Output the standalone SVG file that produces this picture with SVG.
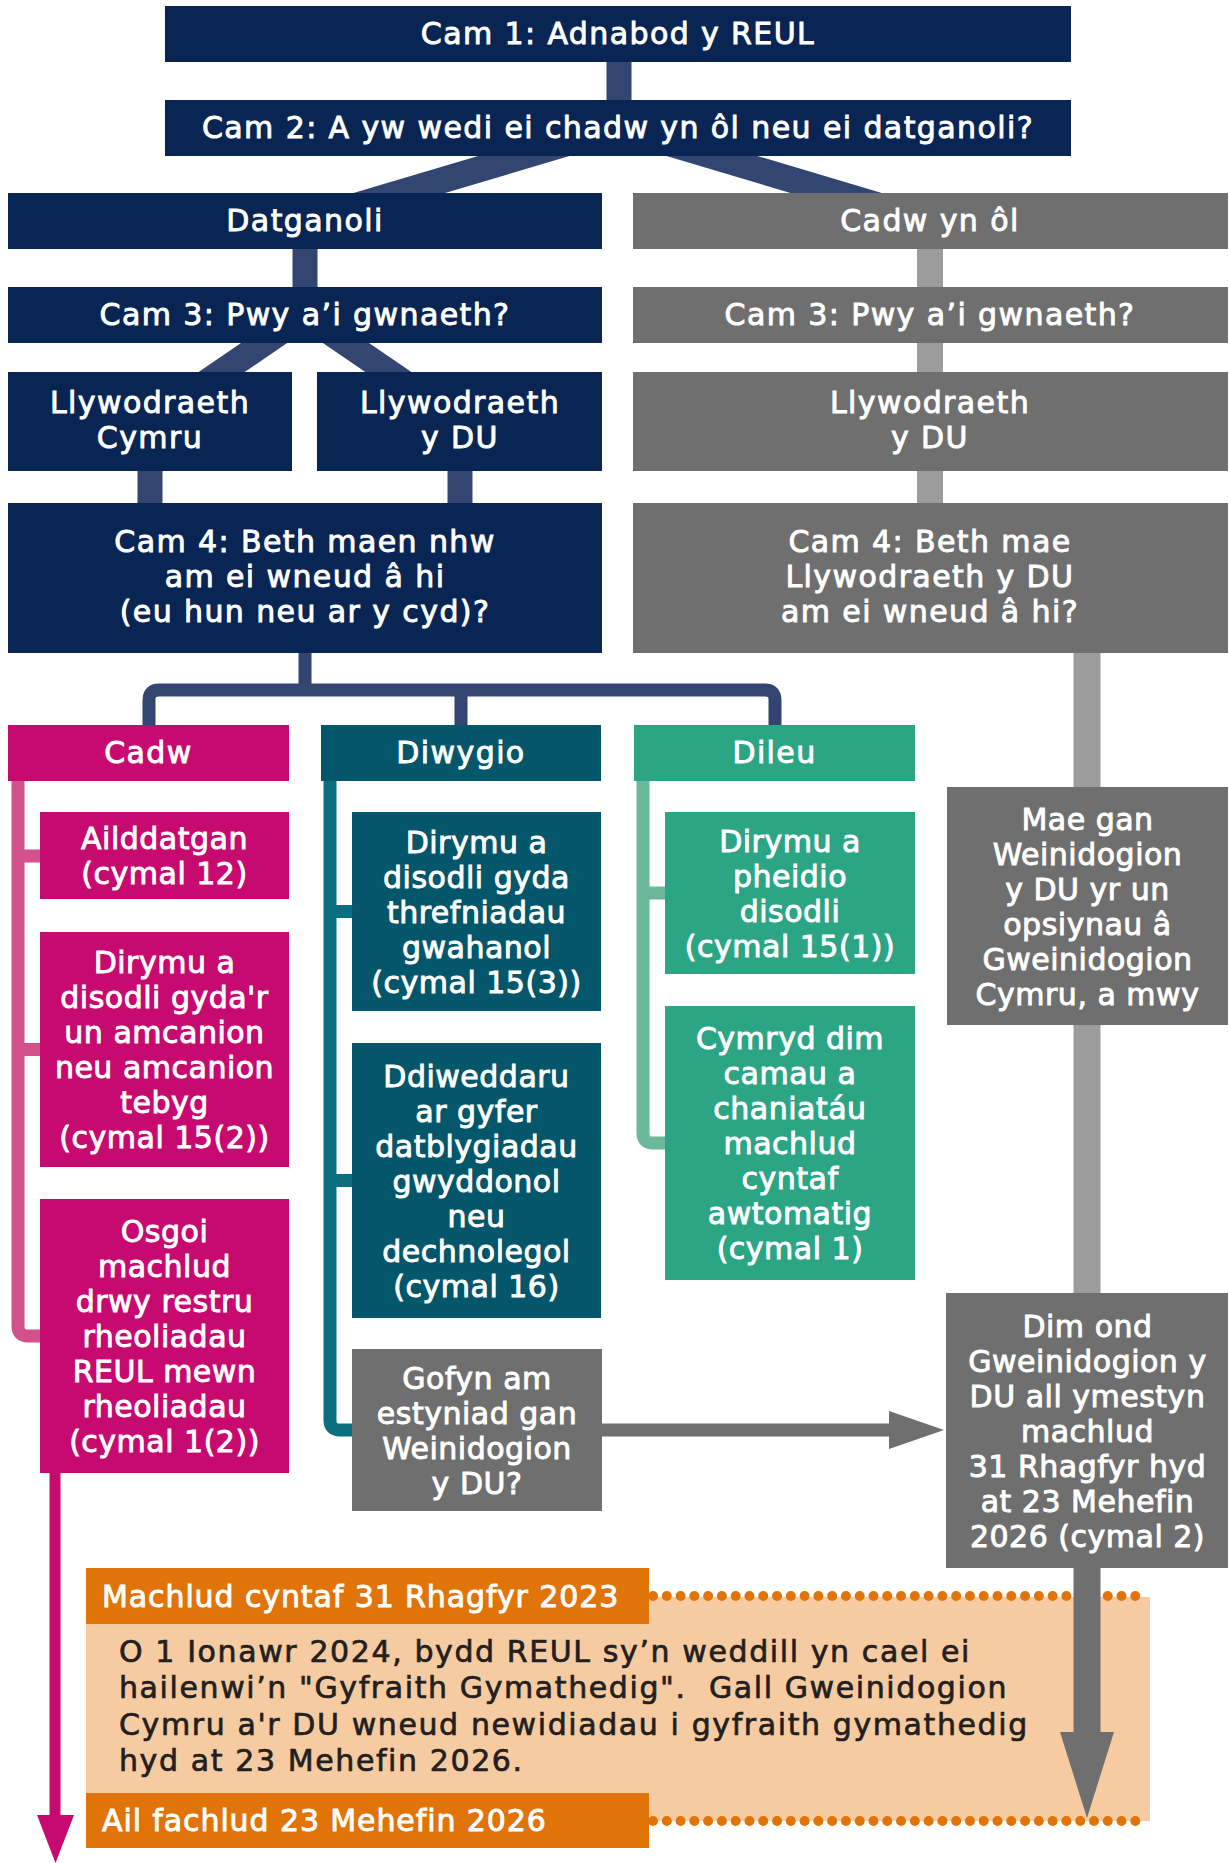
<svg xmlns="http://www.w3.org/2000/svg" width="1229" height="1863" viewBox="0 0 1229 1863">
<style>
text{font-family:"DejaVu Sans","Open Sans",sans-serif;font-weight:400;fill:#fff;stroke:#fff;stroke-width:0.9px;text-anchor:middle}
.h{font-size:30px;letter-spacing:1.4px}
.t{font-size:30px;letter-spacing:0.5px}
.b{font-size:30px;letter-spacing:1.6px;fill:#231f20;stroke:#231f20;stroke-width:0.7px;text-anchor:start}
.ol{font-size:30px;letter-spacing:0.9px;text-anchor:start}
.navy{fill:#082554}.gray{fill:#6f6f6f}.pink{fill:#c70a70}.teal{fill:#04566a}.green{fill:#2ca585}.orange{fill:#e07408}
.cn{stroke:#334571;fill:none}
.cg{stroke:#9c9c9c;fill:none}
</style>
<rect width="1229" height="1863" fill="#fff"/>

<g id="connectors">
  <line class="cn" x1="619" y1="60" x2="619" y2="102" stroke-width="25"/>
  <line class="cn" x1="618" y1="128" x2="305" y2="221" stroke-width="26"/>
  <line class="cn" x1="618" y1="128" x2="930" y2="221" stroke-width="26"/>
  <line class="cn" x1="305" y1="247" x2="305" y2="289" stroke-width="25"/>
  <line class="cn" x1="305" y1="315" x2="150" y2="421" stroke-width="26"/>
  <line class="cn" x1="305" y1="315" x2="460" y2="421" stroke-width="26"/>
  <line class="cn" x1="150" y1="469" x2="150" y2="505" stroke-width="25"/>
  <line class="cn" x1="460" y1="469" x2="460" y2="505" stroke-width="25"/>
  <line class="cg" x1="930" y1="247" x2="930" y2="505" stroke-width="26"/>
  <path class="cn" d="M305 651V690M149 727V700Q149 690 159 690H765Q775 690 775 700V727M461 690V727" stroke-width="13"/>
  <path class="cg" d="M1087 651V789M1087 1023V1295" stroke-width="27"/>
  <path d="M18 779V1326Q18 1336 28 1336H42M18 856H42M18 1049.5H42" stroke="#d3518b" stroke-width="13" fill="none"/>
  <path d="M330 779V1420Q330 1430 340 1430H354M330 911.5H354M330 1180.5H354" stroke="#0b6f80" stroke-width="13" fill="none"/>
  <path d="M643 779V1133Q643 1143 653 1143H667M643 893H667" stroke="#6cb89b" stroke-width="13" fill="none"/>
</g>

<g id="timeline">
  <rect x="86" y="1597" width="1064" height="224" fill="#f6cba1"/>
  <line x1="653" y1="1596" x2="1149" y2="1596" stroke="#e07408" stroke-width="10" stroke-linecap="round" stroke-dasharray="0 13.78"/>
  <line x1="653" y1="1821" x2="1149" y2="1821" stroke="#e07408" stroke-width="10" stroke-linecap="round" stroke-dasharray="0 13.78"/>
  <g id="sunset1"><rect class="orange" x="86" y="1568" width="563" height="56"/><text class="ol" x="102" y="1607">Machlud cyntaf 31 Rhagfyr 2023</text></g>
  <g id="sunset2"><rect class="orange" x="86" y="1793" width="563" height="55"/><text class="ol" x="102" y="1831">Ail fachlud 23 Mehefin 2026</text></g>
  <g id="note">
    <text class="b" x="119" y="1662">O 1 Ionawr 2024, bydd REUL sy’n weddill yn cael ei</text>
    <text class="b" x="119" y="1698" xml:space="preserve">hailenwi’n "Gyfraith Gymathedig".  Gall Gweinidogion</text>
    <text class="b" x="119" y="1735">Cymru a'r DU wneud newidiadau i gyfraith gymathedig</text>
    <text class="b" x="119" y="1771">hyd at 23 Mehefin 2026.</text>
  </g>
</g>

<g id="arrows">
  <rect x="600" y="1423.5" width="290" height="13" fill="#6f6f6f"/>
  <polygon points="889,1411 944,1430 889,1449" fill="#6f6f6f"/>
  <rect x="1073.5" y="1566" width="27" height="168" fill="#6f6f6f"/>
  <polygon points="1060,1732 1114,1732 1087,1818" fill="#6f6f6f"/>
  <rect x="49.5" y="1472" width="11" height="345" fill="#c70a70"/>
  <polygon points="37,1815 74,1815 55.5,1863" fill="#c70a70"/>
</g>

<g id="cam1"><rect class="navy" x="165" y="6" width="906" height="56"/><text class="h" x="618" y="44">Cam 1: Adnabod y REUL</text></g>
<g id="cam2"><rect class="navy" x="165" y="100" width="906" height="56"/><text class="h" x="618" y="138">Cam 2: A yw wedi ei chadw yn ôl neu ei datganoli?</text></g>
<g id="datganoli"><rect class="navy" x="8" y="193" width="594" height="56"/><text class="h" x="305" y="231">Datganoli</text></g>
<g id="cadw-yn-ol"><rect class="gray" x="633" y="193" width="595" height="56"/><text class="h" x="930" y="231">Cadw yn ôl</text></g>
<g id="cam3-left"><rect class="navy" x="8" y="287" width="594" height="56"/><text class="h" x="305" y="325">Cam 3: Pwy a’i gwnaeth?</text></g>
<g id="cam3-right"><rect class="gray" x="633" y="287" width="595" height="56"/><text class="h" x="930" y="325">Cam 3: Pwy a’i gwnaeth?</text></g>
<g id="llyw-cymru"><rect class="navy" x="8" y="372" width="284" height="99"/><text class="h" x="150" y="413">Llywodraeth</text><text class="h" x="150" y="448">Cymru</text></g>
<g id="llyw-du-left"><rect class="navy" x="317" y="372" width="285" height="99"/><text class="h" x="460" y="413">Llywodraeth</text><text class="h" x="460" y="448">y DU</text></g>
<g id="llyw-du-right"><rect class="gray" x="633" y="372" width="595" height="99"/><text class="h" x="930" y="413">Llywodraeth</text><text class="h" x="930" y="448">y DU</text></g>
<g id="cam4-left"><rect class="navy" x="8" y="503" width="594" height="150"/><text class="h" x="305" y="552">Cam 4: Beth maen nhw</text><text class="h" x="305" y="587">am ei wneud â hi</text><text class="h" x="305" y="622">(eu hun neu ar y cyd)?</text></g>
<g id="cam4-right"><rect class="gray" x="633" y="503" width="595" height="150"/><text class="h" x="930" y="552">Cam 4: Beth mae</text><text class="h" x="930" y="587">Llywodraeth y DU</text><text class="h" x="930" y="622">am ei wneud â hi?</text></g>

<g id="cadw"><rect class="pink" x="8" y="725" width="281" height="56"/><text class="h" x="148.5" y="763">Cadw</text></g>
<g id="diwygio"><rect class="teal" x="321" y="725" width="280" height="56"/><text class="h" x="461" y="763">Diwygio</text></g>
<g id="dileu"><rect class="green" x="634" y="725" width="281" height="56"/><text class="h" x="774.5" y="763">Dileu</text></g>

<g id="ailddatgan"><rect class="pink" x="40" y="812" width="249" height="87"/><text class="t" x="164.5" y="849">Ailddatgan</text><text class="t" x="164.5" y="884">(cymal 12)</text></g>
<g id="cadw-dirymu"><rect class="pink" x="40" y="932" width="249" height="235"/>
<text class="t" x="164.5" y="973">Dirymu a</text><text class="t" x="164.5" y="1008">disodli gyda'r</text><text class="t" x="164.5" y="1043">un amcanion</text><text class="t" x="164.5" y="1078">neu amcanion</text><text class="t" x="164.5" y="1113">tebyg</text><text class="t" x="164.5" y="1148">(cymal 15(2))</text></g>
<g id="osgoi"><rect class="pink" x="40" y="1199" width="249" height="274"/>
<text class="t" x="164.5" y="1242">Osgoi</text><text class="t" x="164.5" y="1277">machlud</text><text class="t" x="164.5" y="1312">drwy restru</text><text class="t" x="164.5" y="1347">rheoliadau</text><text class="t" x="164.5" y="1382">REUL mewn</text><text class="t" x="164.5" y="1417">rheoliadau</text><text class="t" x="164.5" y="1452">(cymal 1(2))</text></g>

<g id="diwygio-dirymu"><rect class="teal" x="352" y="812" width="249" height="199"/>
<text class="t" x="476.5" y="852.5">Dirymu a</text><text class="t" x="476.5" y="887.5">disodli gyda</text><text class="t" x="476.5" y="922.5">threfniadau</text><text class="t" x="476.5" y="957.5">gwahanol</text><text class="t" x="476.5" y="992.5">(cymal 15(3))</text></g>
<g id="ddiweddaru"><rect class="teal" x="352" y="1043" width="249" height="275"/>
<text class="t" x="476.5" y="1086.5">Ddiweddaru</text><text class="t" x="476.5" y="1121.5">ar gyfer</text><text class="t" x="476.5" y="1156.5">datblygiadau</text><text class="t" x="476.5" y="1191.5">gwyddonol</text><text class="t" x="476.5" y="1226.5">neu</text><text class="t" x="476.5" y="1261.5">dechnolegol</text><text class="t" x="476.5" y="1296.5">(cymal 16)</text></g>
<g id="gofyn"><rect class="gray" x="352" y="1349" width="250" height="162"/>
<text class="t" x="477" y="1388.5">Gofyn am</text><text class="t" x="477" y="1423.5">estyniad gan</text><text class="t" x="477" y="1458.5">Weinidogion</text><text class="t" x="477" y="1493.5">y DU?</text></g>

<g id="dileu-dirymu"><rect class="green" x="665" y="812" width="250" height="162"/>
<text class="t" x="790" y="851.5">Dirymu a</text><text class="t" x="790" y="886.5">pheidio</text><text class="t" x="790" y="921.5">disodli</text><text class="t" x="790" y="956.5">(cymal 15(1))</text></g>
<g id="cymryd"><rect class="green" x="665" y="1006" width="250" height="274"/>
<text class="t" x="790" y="1049">Cymryd dim</text><text class="t" x="790" y="1084">camau a</text><text class="t" x="790" y="1119">chaniatáu</text><text class="t" x="790" y="1154">machlud</text><text class="t" x="790" y="1189">cyntaf</text><text class="t" x="790" y="1224">awtomatig</text><text class="t" x="790" y="1259">(cymal 1)</text></g>

<g id="mae-gan"><rect class="gray" x="947" y="787" width="281" height="238"/>
<text class="t" x="1087.5" y="829.5">Mae gan</text><text class="t" x="1087.5" y="864.5">Weinidogion</text><text class="t" x="1087.5" y="899.5">y DU yr un</text><text class="t" x="1087.5" y="934.5">opsiynau â</text><text class="t" x="1087.5" y="969.5">Gweinidogion</text><text class="t" x="1087.5" y="1004.5">Cymru, a mwy</text></g>
<g id="dim-ond"><rect class="gray" x="946" y="1293" width="282" height="275"/>
<text class="t" x="1087.5" y="1336.5">Dim ond</text><text class="t" x="1087.5" y="1371.5">Gweinidogion y</text><text class="t" x="1087.5" y="1406.5">DU all ymestyn</text><text class="t" x="1087.5" y="1441.5">machlud</text><text class="t" x="1087.5" y="1476.5">31 Rhagfyr hyd</text><text class="t" x="1087.5" y="1511.5">at 23 Mehefin</text><text class="t" x="1087.5" y="1546.5">2026 (cymal 2)</text></g>
</svg>
